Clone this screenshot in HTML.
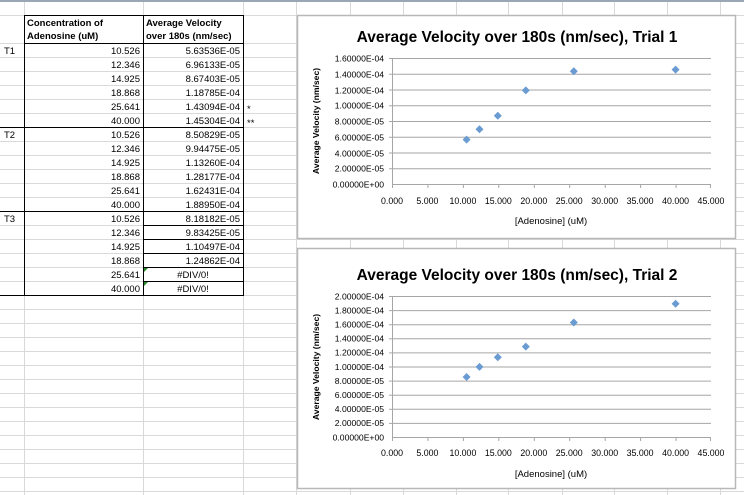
<!DOCTYPE html>
<html><head><meta charset="utf-8"><style>
html,body{margin:0;padding:0;background:#fff;}
svg{display:block;font-family:"Liberation Sans",sans-serif;}
</style></head><body>
<svg width="744" height="495" viewBox="0 0 744 495" xmlns="http://www.w3.org/2000/svg">
<rect width="744" height="495" fill="#fff"/>
<g stroke="#d9d9d9" stroke-width="1">
<line x1="0" y1="15.5" x2="744" y2="15.5"/>
<line x1="0" y1="43.5" x2="744" y2="43.5"/>
<line x1="0" y1="57.5" x2="744" y2="57.5"/><line x1="0" y1="71.5" x2="744" y2="71.5"/><line x1="0" y1="85.5" x2="744" y2="85.5"/><line x1="0" y1="99.5" x2="744" y2="99.5"/><line x1="0" y1="113.5" x2="744" y2="113.5"/><line x1="0" y1="127.5" x2="744" y2="127.5"/><line x1="0" y1="141.5" x2="744" y2="141.5"/><line x1="0" y1="155.5" x2="744" y2="155.5"/><line x1="0" y1="169.5" x2="744" y2="169.5"/><line x1="0" y1="183.5" x2="744" y2="183.5"/><line x1="0" y1="197.5" x2="744" y2="197.5"/><line x1="0" y1="211.5" x2="744" y2="211.5"/><line x1="0" y1="225.5" x2="744" y2="225.5"/><line x1="0" y1="239.5" x2="744" y2="239.5"/><line x1="0" y1="253.5" x2="744" y2="253.5"/><line x1="0" y1="267.5" x2="744" y2="267.5"/><line x1="0" y1="281.5" x2="744" y2="281.5"/><line x1="0" y1="295.5" x2="744" y2="295.5"/><line x1="0" y1="309.5" x2="744" y2="309.5"/><line x1="0" y1="323.5" x2="744" y2="323.5"/><line x1="0" y1="337.5" x2="744" y2="337.5"/><line x1="0" y1="351.5" x2="744" y2="351.5"/><line x1="0" y1="365.5" x2="744" y2="365.5"/><line x1="0" y1="379.5" x2="744" y2="379.5"/><line x1="0" y1="393.5" x2="744" y2="393.5"/><line x1="0" y1="407.5" x2="744" y2="407.5"/><line x1="0" y1="421.5" x2="744" y2="421.5"/><line x1="0" y1="435.5" x2="744" y2="435.5"/><line x1="0" y1="449.5" x2="744" y2="449.5"/><line x1="0" y1="463.5" x2="744" y2="463.5"/><line x1="0" y1="477.5" x2="744" y2="477.5"/><line x1="0" y1="491.5" x2="744" y2="491.5"/>
<line x1="24.5" y1="0" x2="24.5" y2="495"/><line x1="143.5" y1="0" x2="143.5" y2="495"/><line x1="243.5" y1="0" x2="243.5" y2="495"/><line x1="296.5" y1="0" x2="296.5" y2="495"/><line x1="350.5" y1="0" x2="350.5" y2="495"/><line x1="403.5" y1="0" x2="403.5" y2="495"/><line x1="456.5" y1="0" x2="456.5" y2="495"/><line x1="508.5" y1="0" x2="508.5" y2="495"/><line x1="562.5" y1="0" x2="562.5" y2="495"/><line x1="614.5" y1="0" x2="614.5" y2="495"/><line x1="667.5" y1="0" x2="667.5" y2="495"/><line x1="720.5" y1="0" x2="720.5" y2="495"/>
</g>
<line x1="0" y1="1" x2="744" y2="1" stroke="#9aa6b4" stroke-width="2"/>
<g stroke="#000" stroke-width="1" fill="none">
<rect x="24.5" y="15.5" width="219" height="280"/>
<line x1="143.5" y1="15.5" x2="143.5" y2="295.5"/>
<line x1="24.5" y1="43.5" x2="243.5" y2="43.5"/>
<line x1="0" y1="127.5" x2="243.5" y2="127.5"/>
<line x1="0" y1="211.5" x2="243.5" y2="211.5"/>
<line x1="0" y1="295.5" x2="24.5" y2="295.5"/>
<line x1="143.5" y1="225.5" x2="243.5" y2="225.5"/>
<line x1="143.5" y1="239.5" x2="243.5" y2="239.5"/>
<line x1="143.5" y1="253.5" x2="243.5" y2="253.5"/>
<line x1="143.5" y1="267.5" x2="243.5" y2="267.5"/>
<line x1="143.5" y1="281.5" x2="243.5" y2="281.5"/>
</g>
<polygon points="144,268 148,268 144,272" fill="#2a8a2a"/>
<polygon points="144,282 148,282 144,286" fill="#2a8a2a"/>
<g font-size="9.5" fill="#000">
<text x="27" y="26" font-weight="bold">Concentration of</text>
<text x="27" y="39" font-weight="bold">Adenosine (uM)</text>
<text x="146" y="26" font-weight="bold">Average Velocity</text>
<text x="146" y="39" font-weight="bold">over 180s (nm/sec)</text>
<text x="4" y="54">T1</text><text x="4" y="138">T2</text><text x="4" y="222">T3</text>
<g text-anchor="end">
<text x="140" y="54">10.526</text><text x="240" y="54">5.63536E-05</text>
<text x="140" y="68">12.346</text><text x="240" y="68">6.96133E-05</text>
<text x="140" y="82">14.925</text><text x="240" y="82">8.67403E-05</text>
<text x="140" y="96">18.868</text><text x="240" y="96">1.18785E-04</text>
<text x="140" y="110">25.641</text><text x="240" y="110">1.43094E-04</text>
<text x="140" y="124">40.000</text><text x="240" y="124">1.45304E-04</text>
<text x="140" y="138">10.526</text><text x="240" y="138">8.50829E-05</text>
<text x="140" y="152">12.346</text><text x="240" y="152">9.94475E-05</text>
<text x="140" y="166">14.925</text><text x="240" y="166">1.13260E-04</text>
<text x="140" y="180">18.868</text><text x="240" y="180">1.28177E-04</text>
<text x="140" y="194">25.641</text><text x="240" y="194">1.62431E-04</text>
<text x="140" y="208">40.000</text><text x="240" y="208">1.88950E-04</text>
<text x="140" y="222">10.526</text><text x="240" y="222">8.18182E-05</text>
<text x="140" y="236">12.346</text><text x="240" y="236">9.83425E-05</text>
<text x="140" y="250">14.925</text><text x="240" y="250">1.10497E-04</text>
<text x="140" y="264">18.868</text><text x="240" y="264">1.24862E-04</text>
<text x="140" y="278">25.641</text>
<text x="140" y="292">40.000</text>
</g>
<text x="193" y="278" text-anchor="middle">#DIV/0!</text>
<text x="193" y="292" text-anchor="middle">#DIV/0!</text>
<text x="247" y="112">*</text><text x="247" y="126">**</text>
</g>

<!-- Chart 1 -->
<rect x="297.5" y="15.5" width="438" height="223" fill="#fff" stroke="#b8b8b8" stroke-width="1.5"/>
<text x="517" y="42" text-anchor="middle" font-size="15.5" font-weight="bold">Average Velocity over 180s (nm/sec), Trial 1</text>
<g stroke="#a6a6a6" stroke-width="1">
<line x1="392" y1="58.5" x2="711" y2="58.5"/><line x1="392" y1="74.25" x2="711" y2="74.25"/><line x1="392" y1="90" x2="711" y2="90"/><line x1="392" y1="105.75" x2="711" y2="105.75"/><line x1="392" y1="121.5" x2="711" y2="121.5"/><line x1="392" y1="137.25" x2="711" y2="137.25"/><line x1="392" y1="153" x2="711" y2="153"/><line x1="392" y1="168.75" x2="711" y2="168.75"/><line x1="392" y1="184.5" x2="711" y2="184.5"/>
<line x1="392.5" y1="58" x2="392.5" y2="184"/>
<line x1="389" y1="58.5" x2="392" y2="58.5"/><line x1="389" y1="74.25" x2="392" y2="74.25"/><line x1="389" y1="90" x2="392" y2="90"/><line x1="389" y1="105.75" x2="392" y2="105.75"/><line x1="389" y1="121.5" x2="392" y2="121.5"/><line x1="389" y1="137.25" x2="392" y2="137.25"/><line x1="389" y1="153" x2="392" y2="153"/><line x1="389" y1="168.75" x2="392" y2="168.75"/>
<line x1="392.5" y1="184" x2="392.5" y2="188"/><line x1="427.9" y1="184" x2="427.9" y2="188"/><line x1="463.4" y1="184" x2="463.4" y2="188"/><line x1="498.8" y1="184" x2="498.8" y2="188"/><line x1="534.3" y1="184" x2="534.3" y2="188"/><line x1="569.7" y1="184" x2="569.7" y2="188"/><line x1="605.2" y1="184" x2="605.2" y2="188"/><line x1="640.6" y1="184" x2="640.6" y2="188"/><line x1="676.1" y1="184" x2="676.1" y2="188"/><line x1="710.5" y1="184" x2="710.5" y2="188"/>
</g>
<g font-size="8.6" text-anchor="end" textLength="54">
<text x="384" y="61.5">1.60000E-04</text><text x="384" y="77.5">1.40000E-04</text><text x="384" y="93.5">1.20000E-04</text><text x="384" y="108.5">1.00000E-04</text><text x="384" y="124.5">8.00000E-05</text><text x="384" y="140.5">6.00000E-05</text><text x="384" y="156.5">4.00000E-05</text><text x="384" y="171.5">2.00000E-05</text><text x="384" y="187.5">0.00000E+00</text>
</g>
<g font-size="8.8" text-anchor="middle">
<text x="392" y="204">0.000</text><text x="427.4" y="204">5.000</text><text x="462.9" y="204">10.000</text><text x="498.3" y="204">15.000</text><text x="533.8" y="204">20.000</text><text x="569.2" y="204">25.000</text><text x="604.7" y="204">30.000</text><text x="640.1" y="204">35.000</text><text x="675.6" y="204">40.000</text><text x="711" y="204">45.000</text>
<text x="551" y="224" font-size="9.5">[Adenosine] (uM)</text>
<text transform="translate(319,121) rotate(-90)" font-weight="bold" font-size="8.6">Average Velocity (nm/sec)</text>
</g>
<g fill="#6a9bd1">
<polygon points="466.6,135.6 470.6,139.6 466.6,143.6 462.6,139.6"/>
<polygon points="479.5,125.2 483.5,129.2 479.5,133.2 475.5,129.2"/>
<polygon points="497.8,111.7 501.8,115.7 497.8,119.7 493.8,115.7"/>
<polygon points="525.8,86.4 529.8,90.4 525.8,94.4 521.8,90.4"/>
<polygon points="573.8,67.3 577.8,71.3 573.8,75.3 569.8,71.3"/>
<polygon points="675.6,65.6 679.6,69.6 675.6,73.6 671.6,69.6"/>
</g>

<!-- Chart 2 -->
<rect x="297.5" y="248.5" width="438" height="240" fill="#fff" stroke="#b8b8b8" stroke-width="1.5"/>
<text x="517" y="280" text-anchor="middle" font-size="15.5" font-weight="bold">Average Velocity over 180s (nm/sec), Trial 2</text>
<g stroke="#a6a6a6" stroke-width="1">
<line x1="392" y1="296.5" x2="711" y2="296.5"/><line x1="392" y1="310.6" x2="711" y2="310.6"/><line x1="392" y1="324.7" x2="711" y2="324.7"/><line x1="392" y1="338.8" x2="711" y2="338.8"/><line x1="392" y1="352.9" x2="711" y2="352.9"/><line x1="392" y1="367" x2="711" y2="367"/><line x1="392" y1="381.1" x2="711" y2="381.1"/><line x1="392" y1="395.2" x2="711" y2="395.2"/><line x1="392" y1="409.3" x2="711" y2="409.3"/><line x1="392" y1="423.4" x2="711" y2="423.4"/><line x1="392" y1="437.5" x2="711" y2="437.5"/>
<line x1="392.5" y1="296" x2="392.5" y2="437"/>
<line x1="389" y1="296.5" x2="392" y2="296.5"/><line x1="389" y1="310.6" x2="392" y2="310.6"/><line x1="389" y1="324.7" x2="392" y2="324.7"/><line x1="389" y1="338.8" x2="392" y2="338.8"/><line x1="389" y1="352.9" x2="392" y2="352.9"/><line x1="389" y1="367" x2="392" y2="367"/><line x1="389" y1="381.1" x2="392" y2="381.1"/><line x1="389" y1="395.2" x2="392" y2="395.2"/><line x1="389" y1="409.3" x2="392" y2="409.3"/><line x1="389" y1="423.4" x2="392" y2="423.4"/>
<line x1="392.5" y1="437" x2="392.5" y2="441"/><line x1="427.9" y1="437" x2="427.9" y2="441"/><line x1="463.4" y1="437" x2="463.4" y2="441"/><line x1="498.8" y1="437" x2="498.8" y2="441"/><line x1="534.3" y1="437" x2="534.3" y2="441"/><line x1="569.7" y1="437" x2="569.7" y2="441"/><line x1="605.2" y1="437" x2="605.2" y2="441"/><line x1="640.6" y1="437" x2="640.6" y2="441"/><line x1="676.1" y1="437" x2="676.1" y2="441"/><line x1="710.5" y1="437" x2="710.5" y2="441"/>
</g>
<g font-size="8.6" text-anchor="end">
<text x="384" y="299.5">2.00000E-04</text><text x="384" y="313.5">1.80000E-04</text><text x="384" y="327.5">1.60000E-04</text><text x="384" y="341.5">1.40000E-04</text><text x="384" y="355.5">1.20000E-04</text><text x="384" y="370">1.00000E-04</text><text x="384" y="384">8.00000E-05</text><text x="384" y="398">6.00000E-05</text><text x="384" y="412">4.00000E-05</text><text x="384" y="426">2.00000E-05</text><text x="384" y="440.5">0.00000E+00</text>
</g>
<g font-size="8.8" text-anchor="middle">
<text x="392" y="456">0.000</text><text x="427.4" y="456">5.000</text><text x="462.9" y="456">10.000</text><text x="498.3" y="456">15.000</text><text x="533.8" y="456">20.000</text><text x="569.2" y="456">25.000</text><text x="604.7" y="456">30.000</text><text x="640.1" y="456">35.000</text><text x="675.6" y="456">40.000</text><text x="711" y="456">45.000</text>
<text x="551" y="477" font-size="9.5">[Adenosine] (uM)</text>
<text transform="translate(319,367) rotate(-90)" font-weight="bold" font-size="8.6">Average Velocity (nm/sec)</text>
</g>
<g fill="#6a9bd1">
<polygon points="466.6,373 470.6,377 466.6,381 462.6,377"/>
<polygon points="479.5,362.9 483.5,366.9 479.5,370.9 475.5,366.9"/>
<polygon points="497.8,353.2 501.8,357.2 497.8,361.2 493.8,357.2"/>
<polygon points="525.8,342.6 529.8,346.6 525.8,350.6 521.8,346.6"/>
<polygon points="573.8,318.5 577.8,322.5 573.8,326.5 569.8,322.5"/>
<polygon points="675.6,299.8 679.6,303.8 675.6,307.8 671.6,303.8"/>
</g>
</svg>
</body></html>
